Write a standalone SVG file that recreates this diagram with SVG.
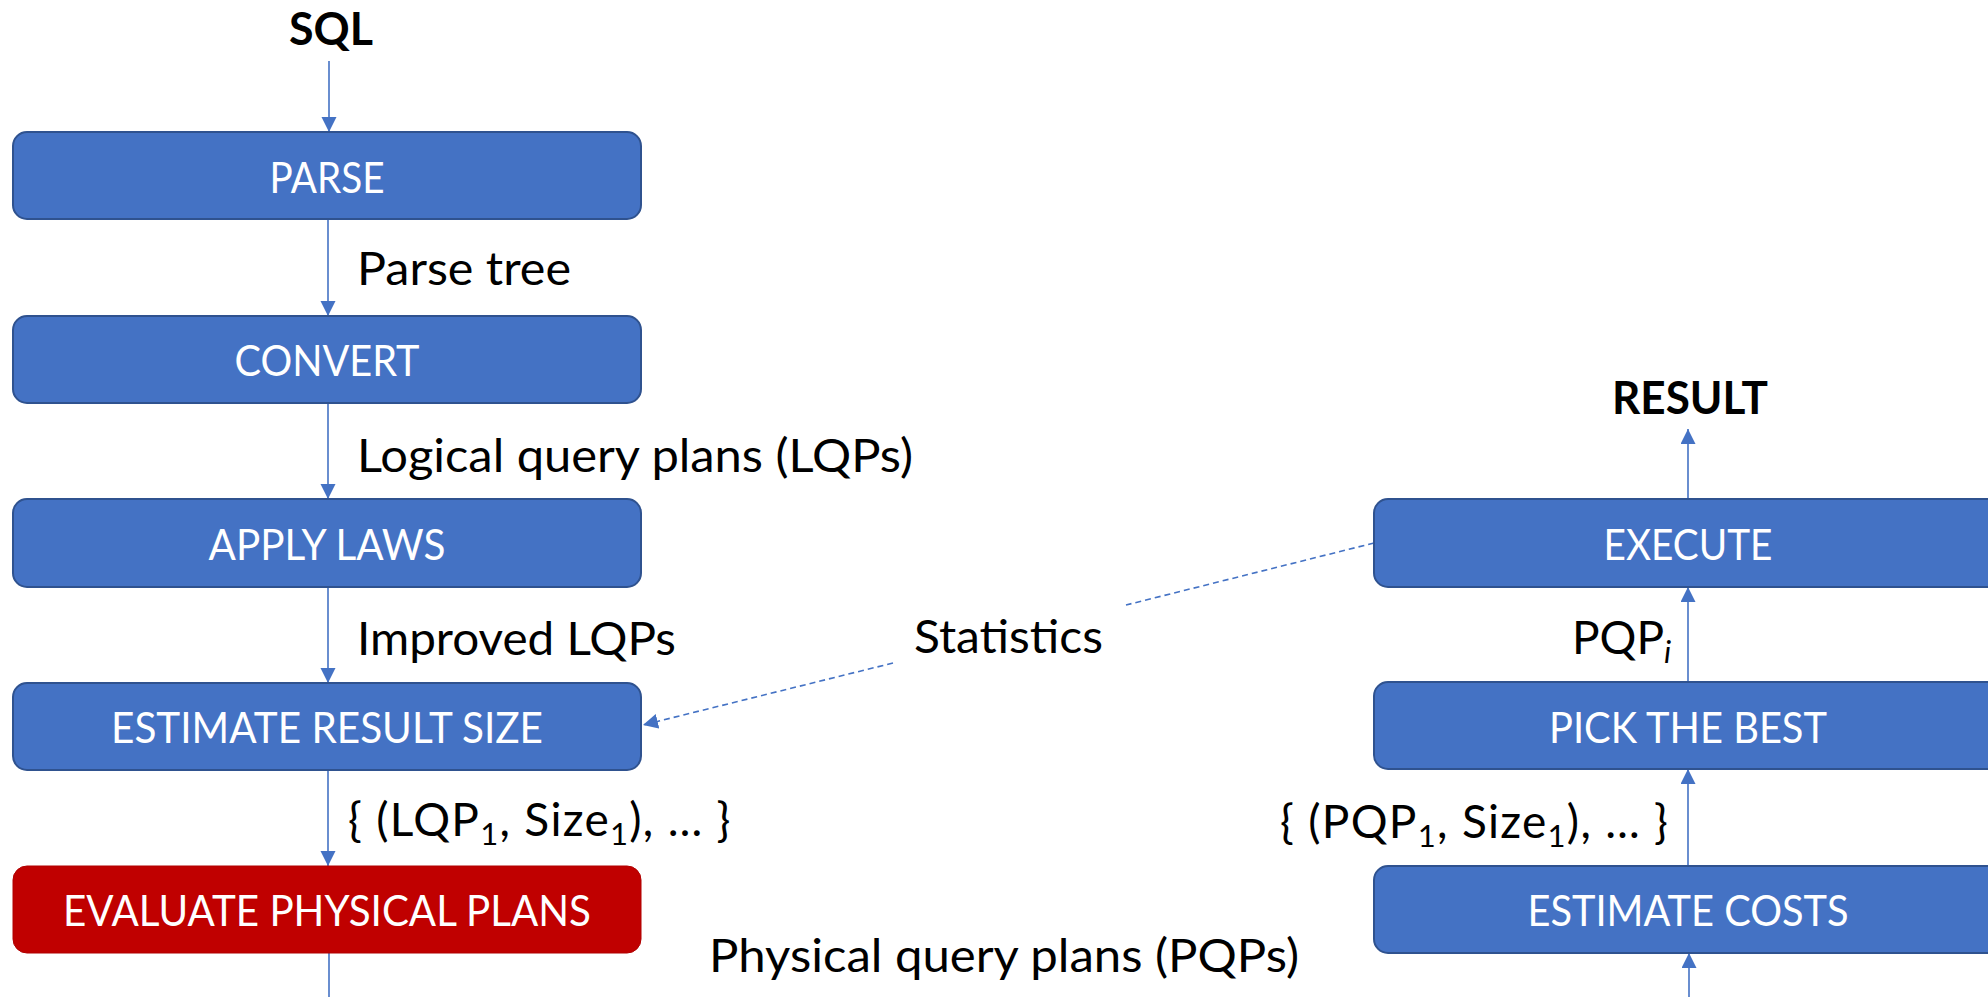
<svg xmlns="http://www.w3.org/2000/svg" width="1988" height="997" viewBox="0 0 1988 997">
<defs>
<style>
.box{fill:#4472C4;stroke:#2F528F;stroke-width:2}
.red{fill:#C00000;stroke:#B00000;stroke-width:1}
.bl{font-family:Lato,"Liberation Sans",sans-serif;font-size:42px;fill:#fff;text-anchor:middle}
.lab{font-family:Lato,"Liberation Sans",sans-serif;font-size:46px;fill:#000}
.sub{letter-spacing:1.3px}
.ttl{font-family:Lato,"Liberation Sans",sans-serif;font-size:46px;font-weight:bold;fill:#000;text-anchor:middle}
.con{stroke:#4472C4;stroke-width:1.6;fill:none}
.dash{stroke:#4472C4;stroke-width:1.6;fill:none;stroke-dasharray:6 4}
</style>
<marker id="ah" markerUnits="userSpaceOnUse" markerWidth="16" markerHeight="16" refX="15" refY="7.5" orient="auto">
<path d="M0,0 L15,7.5 L0,15 Z" fill="#4472C4"/>
</marker>
</defs>
<rect width="1988" height="997" fill="#fff"/>

<g id="connectors">
<line class="con" x1="329" y1="61" x2="329" y2="132" marker-end="url(#ah)"/>
<line class="con" x1="328" y1="219" x2="328" y2="316" marker-end="url(#ah)"/>
<line class="con" x1="328" y1="403" x2="328" y2="499" marker-end="url(#ah)"/>
<line class="con" x1="328" y1="587" x2="328" y2="683" marker-end="url(#ah)"/>
<line class="con" x1="328" y1="770" x2="328" y2="866" marker-end="url(#ah)"/>
<line class="con" x1="329" y1="953" x2="329" y2="997"/>
<line class="con" x1="1689" y1="997" x2="1689" y2="953" marker-end="url(#ah)"/>
<line class="con" x1="1688" y1="866" x2="1688" y2="769" marker-end="url(#ah)"/>
<line class="con" x1="1688" y1="682" x2="1688" y2="587" marker-end="url(#ah)"/>
<line class="con" x1="1688" y1="499" x2="1688" y2="429" marker-end="url(#ah)"/>
<line class="dash" x1="1374" y1="543" x2="1126" y2="605"/>
<line class="dash" x1="893" y1="663" x2="643" y2="725" marker-end="url(#ah)"/>
</g>

<g id="sql"><text class="ttl" x="331" y="45" textLength="84" lengthAdjust="spacingAndGlyphs">SQL</text></g>
<g id="result"><text class="ttl" x="1690" y="414" textLength="156" lengthAdjust="spacingAndGlyphs">RESULT</text></g>

<g id="parse"><rect class="box" x="13" y="132" width="628" height="87" rx="14"/><text class="bl" x="327" y="193" textLength="115" lengthAdjust="spacingAndGlyphs">PARSE</text></g>
<g id="convert"><rect class="box" x="13" y="316" width="628" height="87" rx="14"/><text class="bl" x="327" y="376" textLength="185" lengthAdjust="spacingAndGlyphs">CONVERT</text></g>
<g id="apply-laws"><rect class="box" x="13" y="499" width="628" height="88" rx="14"/><text class="bl" x="327" y="560" textLength="237" lengthAdjust="spacingAndGlyphs">APPLY LAWS</text></g>
<g id="estimate-result-size"><rect class="box" x="13" y="683" width="628" height="87" rx="14"/><text class="bl" x="327" y="743" textLength="432" lengthAdjust="spacingAndGlyphs">ESTIMATE RESULT SIZE</text></g>
<g id="evaluate-physical-plans"><rect class="red" x="13" y="866" width="628" height="87" rx="14"/><text class="bl" x="327" y="926" textLength="528" lengthAdjust="spacingAndGlyphs">EVALUATE PHYSICAL PLANS</text></g>

<g id="execute"><rect class="box" x="1374" y="499" width="630" height="88" rx="14"/><text class="bl" x="1688" y="560" textLength="169" lengthAdjust="spacingAndGlyphs">EXECUTE</text></g>
<g id="pick-the-best"><rect class="box" x="1374" y="682" width="630" height="87" rx="14"/><text class="bl" x="1688" y="743" textLength="278" lengthAdjust="spacingAndGlyphs">PICK THE BEST</text></g>
<g id="estimate-costs"><rect class="box" x="1374" y="866" width="630" height="87" rx="14"/><text class="bl" x="1688" y="926" textLength="321" lengthAdjust="spacingAndGlyphs">ESTIMATE COSTS</text></g>

<g id="labels">
<text class="lab" x="357" y="285" textLength="214" lengthAdjust="spacingAndGlyphs">Parse tree</text>
<text class="lab" x="357" y="472" textLength="556" lengthAdjust="spacingAndGlyphs">Logical query plans (LQPs)</text>
<text class="lab" x="357" y="655" textLength="319" lengthAdjust="spacingAndGlyphs">Improved LQPs</text>
<text class="lab" x="914" y="653" textLength="189" lengthAdjust="spacingAndGlyphs">Statistics</text>
<text class="lab" x="709" y="972" textLength="590" lengthAdjust="spacingAndGlyphs">Physical query plans (PQPs)</text>
<text class="lab sub" x="348" y="836">{ (LQP<tspan font-size="31" dy="9">1</tspan><tspan dy="-9">, Size</tspan><tspan font-size="31" dy="9">1</tspan><tspan dy="-9">), … }</tspan></text>
<text class="lab sub" x="1280" y="838">{ (PQP<tspan font-size="31" dy="9">1</tspan><tspan dy="-9">, Size</tspan><tspan font-size="31" dy="9">1</tspan><tspan dy="-9">), … }</tspan></text>
<text class="lab" x="1572" y="654">PQP<tspan font-size="31" font-style="italic" dy="9">i</tspan></text>
</g>
</svg>
